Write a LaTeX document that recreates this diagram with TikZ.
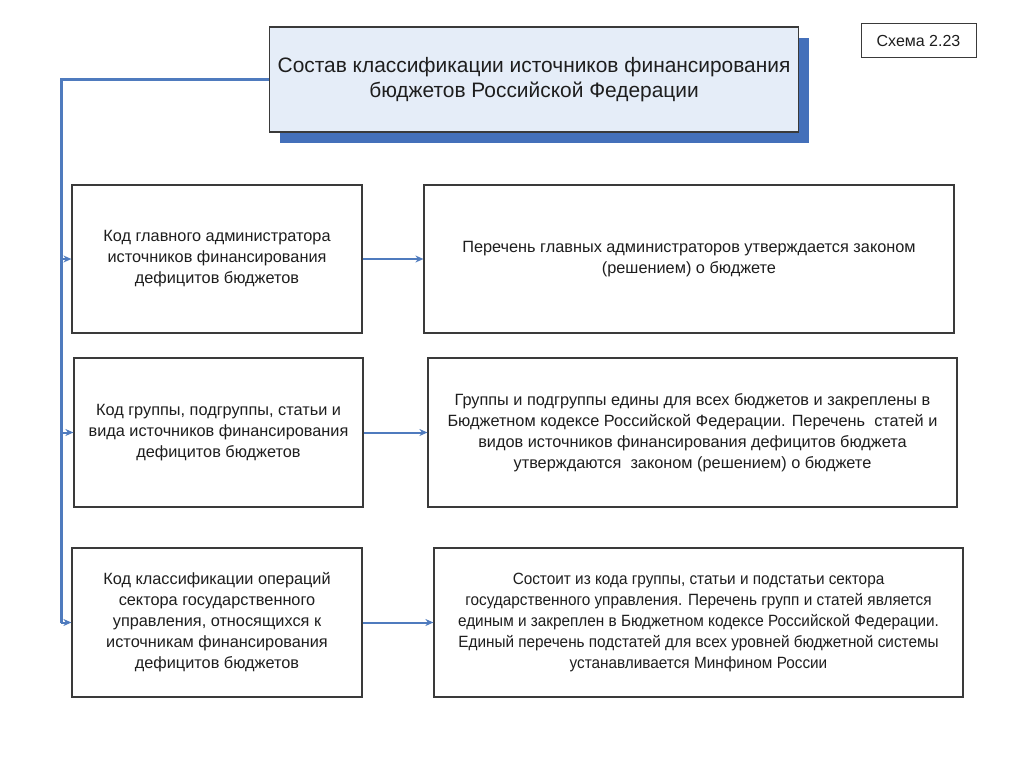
\documentclass[tikz,border=0pt]{standalone}
\usepackage{fontspec}
\setmainfont{Liberation Sans}
\usetikzlibrary{arrows.meta,shadows}
\definecolor{lineblue}{HTML}{4F7BBE}
\definecolor{shadowblue}{HTML}{4470BA}
\definecolor{titlefill}{HTML}{E5EDF8}
\definecolor{boxline}{HTML}{3A3A3A}
\definecolor{txt}{HTML}{1E1E1E}
\newcommand{\narrowline}{\addfontfeature{FakeStretch=0.94}}
\tikzset{
  box/.style={draw=boxline, line width=1.2bp, fill=white, inner sep=0pt, align=center,
    text=txt, font=\fontsize{16.3bp}{21bp}\selectfont},
  lbox/.style={box, minimum width=290bp, minimum height=148bp},
  rbox/.style={box, minimum width=530bp, minimum height=148bp},
  titlebox/.style={draw=boxline, line width=1.2bp, fill=titlefill, inner sep=0pt, align=center,
    text=txt, minimum width=529bp, minimum height=105bp,
    font=\fontsize{20.9bp}{25bp}\selectfont,
    drop shadow={shadow xshift=10bp, shadow yshift=-11bp, fill=shadowblue, opacity=1}},
  tagbox/.style={draw=boxline, line width=1bp, fill=white, inner sep=0pt,
    minimum width=115bp, minimum height=34bp, text=txt, font=\fontsize{16bp}{18bp}\selectfont},
  trunk/.style={draw=lineblue, line width=3bp},
  arr/.style={draw=lineblue, line width=2bp, -{Stealth[length=8bp,width=7bp]}},
}
\begin{document}
\begin{tikzpicture}[x=1bp,y=-1bp]
\useasboundingbox (0,0) rectangle (1024,767);
\fill[white] (0,0) rectangle (1024,767);

\node[titlebox] (title) at (534,79.5) {Состав классификации источников финансирования\\бюджетов Российской Федерации};
\node[tagbox] (tag) at (918.5,41) {Схема 2.23};

\node[lbox] (l1) at (217,259) {Код главного администратора\\источников финансирования\\дефицитов бюджетов};
\node[rbox] (r1) at (689,259) {Перечень главных администраторов утверждается законом\\(решением) о бюджете};

\node[lbox, minimum width=289bp, minimum height=149bp] (l2) at (218.5,432.5) {Код группы, подгруппы, статьи и\\вида источников финансирования\\дефицитов бюджетов};
\node[rbox, minimum width=529bp, minimum height=149bp] (r2) at (692.5,432.5) {Группы и подгруппы едины для всех бюджетов и закреплены в\\Бюджетном кодексе Российской Федерации. Перечень\ \ статей и\\видов источников финансирования дефицитов бюджета\\утверждаются\ \ законом (решением) о бюджете};

\node[lbox, minimum height=149bp] (l3) at (217,622.5) {Код классификации операций\\сектора государственного\\управления, относящихся к\\источникам финансирования\\дефицитов бюджетов};
\node[rbox, minimum width=529bp, minimum height=149bp] (r3) at (698.5,622.5) {\narrowline Состоит из кода группы, статьи и подстатьи сектора\\\narrowline государственного управления. Перечень групп и статей является\\\narrowline единым и закреплен в Бюджетном кодексе Российской Федерации.\\\narrowline Единый перечень подстатей для всех уровней бюджетной системы\\\narrowline устанавливается Минфином России};

\coordinate (j1) at (61,259);
\coordinate (j2) at (61,432.5);
\coordinate (j3) at (61,622.5);

\draw[trunk] (title.west) -| (j3);
\draw[arr] (j1) -- (l1.west);
\draw[arr] (j2) -- (l2.west);
\draw[arr] (j3) -- (l3.west);
\draw[arr] (l1.east) -- (r1.west);
\draw[arr] (l2.east) -- (r2.west);
\draw[arr] (l3.east) -- (r3.west);
\end{tikzpicture}
\end{document}
